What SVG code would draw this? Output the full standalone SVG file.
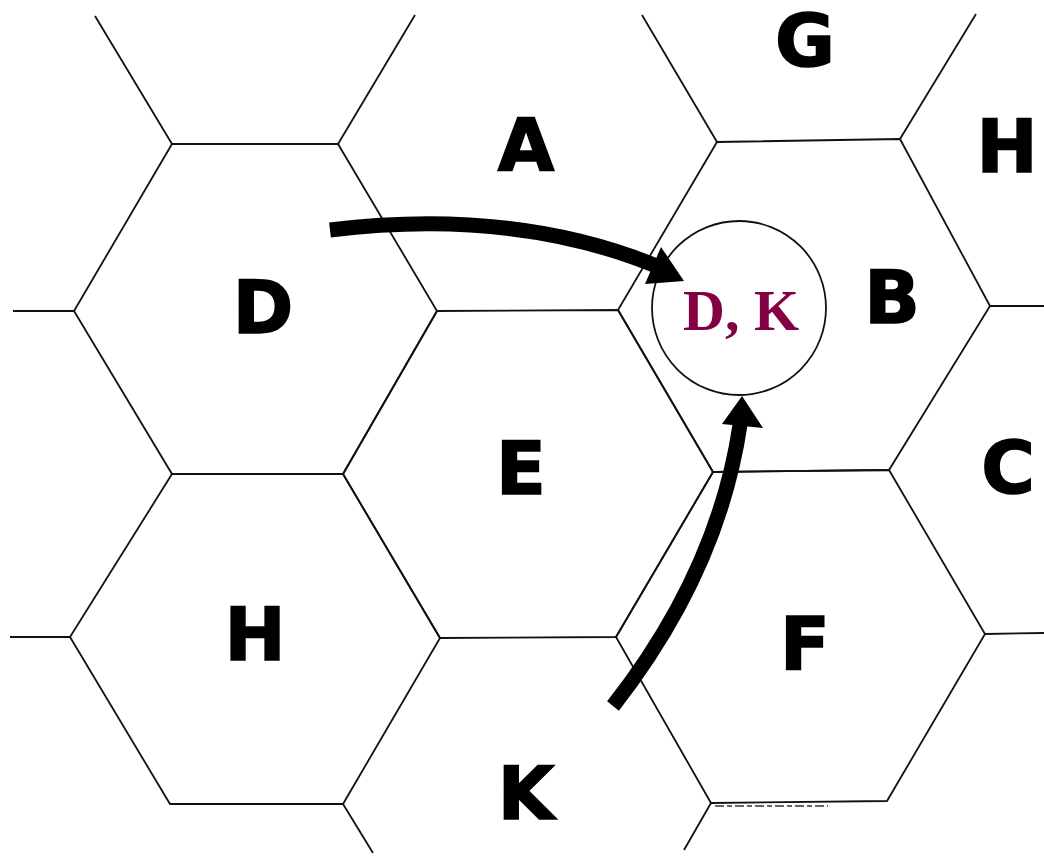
<svg xmlns="http://www.w3.org/2000/svg" width="1044" height="856" viewBox="0 0 1044 856">
  <style>
    .edge { fill: none; stroke: #111; stroke-width: 1.8; stroke-linejoin: miter; }
    .lbl { font-family: "DejaVu Sans", Verdana, sans-serif; font-weight: bold; font-size: 73px; fill: #000; stroke: #000; stroke-width: 1.6; text-anchor: middle; }
    .dk { font-family: "Liberation Serif", "Times New Roman", serif; font-weight: bold; font-size: 58px; fill: #850042; text-anchor: middle; }
    .shaft { fill: none; stroke: #000; stroke-width: 15; stroke-linecap: butt; }
  </style>
  <rect width="1044" height="856" fill="#fff"/>
  <g id="cell-D">
    <polygon class="edge" points="172,144 338,144 437,311 343,474 172,474 74,311"/>
    <text class="lbl" x="263" y="333">D</text>
  </g>
  <g id="cell-H-left">
    <polygon class="edge" points="172,474 343,474 440,638 343,804 170,804 70,637"/>
    <text class="lbl" x="255" y="660">H</text>
  </g>
  <g id="cell-E">
    <polygon class="edge" points="437,311 618,310 713,472 616,637 440,638 343,474"/>
    <text class="lbl" x="521" y="494">E</text>
  </g>
  <g id="cell-B">
    <polygon class="edge" points="717,142 900,139 990,306 889,470 713,472 618,310"/>
    <text class="lbl" x="892" y="323">B</text>
  </g>
  <g id="cell-F">
    <polygon class="edge" points="713,472 889,470 985,634 887,801 711,803 616,637"/>
    <text class="lbl" x="805" y="670">F</text>
    <line x1="715" y1="806" x2="828" y2="806" stroke="#333" stroke-width="1.6" stroke-dasharray="9 3 5 3"/>
  </g>
  <g id="cell-A">
    <text class="lbl" x="526" y="171">A</text>
  </g>
  <g id="cell-G">
    <text class="lbl" x="805" y="66">G</text>
  </g>
  <g id="cell-H-right">
    <text class="lbl" x="1007" y="172">H</text>
  </g>
  <g id="cell-C">
    <text class="lbl" x="1008" y="493">C</text>
  </g>
  <g id="cell-K">
    <text class="lbl" x="526" y="819">K</text>
  </g>
  <g id="grid-stubs">
    <line class="edge" x1="95" y1="16" x2="172" y2="144"/>
    <line class="edge" x1="415" y1="15" x2="338" y2="144"/>
    <line class="edge" x1="642" y1="15" x2="717" y2="142"/>
    <line class="edge" x1="976" y1="14" x2="900" y2="139"/>
    <line class="edge" x1="13" y1="311" x2="74" y2="311"/>
    <line class="edge" x1="10" y1="637" x2="70" y2="637"/>
    <line class="edge" x1="990" y1="306" x2="1044" y2="306"/>
    <line class="edge" x1="985" y1="634" x2="1044" y2="633"/>
    <line class="edge" x1="343" y1="804" x2="373" y2="853"/>
    <line class="edge" x1="711" y1="803" x2="684" y2="850"/>
  </g>
  <g id="cell-DK">
    <circle class="edge" cx="739" cy="308" r="87"/>
    <text class="dk" x="741" y="330">D, K</text>
  </g>
  <g id="connectors">
    <path class="shaft" d="M330,230 Q520,207 666,270"/>
    <polygon points="684,281 661,247 645,284" fill="#000"/>
    <path class="shaft" d="M613,706 Q718,572 740,425"/>
    <polygon points="742,396 722,424 763,428" fill="#000"/>
  </g>
</svg>
